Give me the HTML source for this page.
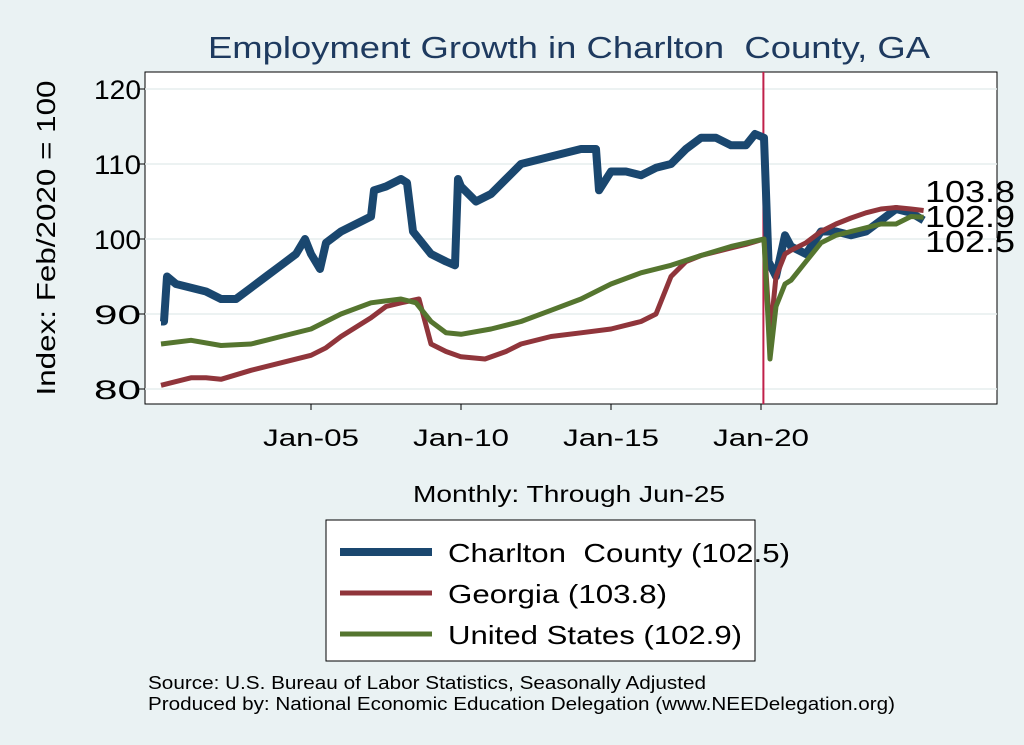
<!DOCTYPE html>
<html><head><meta charset="utf-8"><style>
body{margin:0;background:#eaf2f3;}
svg{display:block;font-family:"Liberation Sans",sans-serif;}
</style></head><body>
<svg width="1024" height="745">
<rect x="0" y="0" width="1024" height="745" fill="#eaf2f3"/>
<rect x="145" y="72" width="852" height="332" fill="#ffffff" stroke="#000" stroke-width="1"/>
<g id="grid"></g>
<g id="axes"></g>
<g id="series"></g>
<text x="208" y="58" font-size="31" fill="#1e3a5f" textLength="722" lengthAdjust="spacingAndGlyphs">Employment Growth in Charlton&#160; County, GA</text>
<text transform="translate(55,238) rotate(-90)" text-anchor="middle" font-size="26" textLength="315" lengthAdjust="spacingAndGlyphs">Index: Feb/2020 = 100</text>
<text x="413" y="502" font-size="23" textLength="312" lengthAdjust="spacingAndGlyphs">Monthly: Through Jun-25</text>
<g>
<rect x="326" y="520" width="429" height="141" fill="#fff" stroke="#000" stroke-width="1"/>
<line x1="340" y1="552" x2="432" y2="552" stroke="#1a476f" stroke-width="8"/>
<text x="448" y="562" font-size="26" textLength="342" lengthAdjust="spacingAndGlyphs">Charlton&#160; County (102.5)</text>
<line x1="340" y1="593" x2="432" y2="593" stroke="#90353b" stroke-width="5"/>
<text x="448" y="603" font-size="26" textLength="219" lengthAdjust="spacingAndGlyphs">Georgia (103.8)</text>
<line x1="340" y1="634" x2="432" y2="634" stroke="#55752f" stroke-width="5"/>
<text x="448" y="644" font-size="26" textLength="294" lengthAdjust="spacingAndGlyphs">United States (102.9)</text>
</g>
<text x="148" y="689" font-size="18" textLength="558" lengthAdjust="spacingAndGlyphs">Source: U.S. Bureau of Labor Statistics, Seasonally Adjusted</text>
<text x="148" y="710" font-size="18" textLength="747" lengthAdjust="spacingAndGlyphs">Produced by: National Economic Education Delegation (www.NEEDelegation.org)</text>
</svg>
<script>
const yTicks=[80,90,100,110,120];
const xTickLabels=["Jan-05","Jan-10","Jan-15","Jan-20"];
const xTickYears=[2005,2010,2015,2020];
const charltonDates=[2000,2000.1,2000.2,2000.5,2001,2001.5,2002,2002.5,2003,2003.5,2004,2004.5,2004.8,2005,2005.3,2005.5,2006,2006.5,2007,2007.1,2007.5,2008,2008.2,2008.4,2008.6,2009,2009.5,2009.8,2009.9,2010,2010.5,2011,2011.5,2012,2012.5,2013,2013.5,2014,2014.5,2014.6,2015,2015.5,2016,2016.5,2017,2017.5,2018,2018.5,2019,2019.5,2019.8,2020.1,2020.25,2020.5,2020.8,2021,2021.5,2022,2022.5,2023,2023.5,2024,2024.5,2025,2025.42];
const charltonValues=[89,89,95,94,93.5,93,92,92,93.5,95,96.5,98,100,98,96,99.5,101,102,103,106.5,107,108,107.5,101,100,98,97,96.5,108,107,105,106,108,110,110.5,111,111.5,112,112,106.5,109,109,108.5,109.5,110,112,113.5,113.5,112.5,112.5,114,113.5,97,95,100.5,99,98,101,101,100.5,101,102.5,104,103.5,102.5];
const gaDates=[2000,2001,2001.5,2002,2003,2004,2005,2005.5,2006,2007,2007.5,2008,2008.6,2009,2009.5,2010,2010.8,2011.5,2012,2013,2014,2015,2016,2016.5,2017,2017.5,2018,2019,2019.5,2020.1,2020.3,2020.5,2020.8,2021,2021.5,2022,2022.5,2023,2023.5,2024,2024.5,2025,2025.42];
const gaValues=[80.5,81.5,81.5,81.3,82.5,83.5,84.5,85.5,87,89.5,91,91.5,92,86,85,84.3,84,85,86,87,87.5,88,89,90,95,97,97.8,98.8,99.3,100,87,95,98,98.5,99.5,101,102,102.8,103.5,104,104.2,104,103.8];
const usDates=[2000,2001,2002,2003,2003.5,2004,2005,2006,2007,2008,2008.5,2009,2009.5,2010,2011,2012,2013,2014,2015,2016,2017,2018,2019,2020.1,2020.3,2020.5,2020.8,2021,2021.5,2022,2022.5,2023,2024,2024.5,2025,2025.42];
const usValues=[86,86.5,85.8,86,86.5,87,88,90,91.5,92,91.5,89,87.5,87.3,88,89,90.5,92,94,95.5,96.5,97.8,99,100,84,91,94,94.5,97,99.5,100.5,101,102,102,103,102.9];
const endLabels=["103.8","102.9","102.5"];
const endLabelValues=[103.8,102.9,102.5];

const NS="http://www.w3.org/2000/svg";
const xS=t=>161+(t-2000)*30;
const yS=v=>389-(v-80)*7.5;
function mk(tag,attrs,parent){const e=document.createElementNS(NS,tag);for(const k in attrs)e.setAttribute(k,attrs[k]);parent.appendChild(e);return e;}
const grid=document.getElementById('grid'),axes=document.getElementById('axes'),series=document.getElementById('series');
yTicks.forEach(v=>{
  const g=mk('line',{x1:145,x2:997,y1:yS(v),y2:yS(v),stroke:'#e6eded','stroke-width':1.5},grid);
  
  
  const t=mk('line',{x1:139,x2:145,y1:yS(v),y2:yS(v),stroke:'#000'},axes);
  
  
  const l=mk('text',{x:141,y:yS(v)+10,'text-anchor':'end','font-size':27,textLength:47,lengthAdjust:'spacingAndGlyphs'},axes);
  l.textContent=v;
  
  
});
xTickYears.forEach((yr,i)=>{
  const t=mk('line',{x1:xS(yr),x2:xS(yr),y1:404,y2:410,stroke:'#000'},axes);
  
  
  const l=mk('text',{x:xS(yr)-48,y:446,'font-size':24,textLength:96,lengthAdjust:'spacingAndGlyphs'},axes);
  l.textContent=xTickLabels[i];
  
  
});
const vl=mk('line',{x1:xS(2020.08),x2:xS(2020.08),y1:72,y2:404,stroke:'#c0204a','stroke-width':2},series);


function path(d,v,color,w,name){
  const p=mk('path',{d:d.map((t,i)=>(i?'L':'M')+xS(t).toFixed(1)+','+yS(v[i]).toFixed(1)).join(''),fill:'none',stroke:color,'stroke-width':w,'stroke-linejoin':'round'},series);
  
  
}
path(charltonDates,charltonValues,'#1a476f',8,'charlton-line');
path(gaDates,gaValues,'#90353b',5,'georgia-line');
path(usDates,usValues,'#55752f',5,'us-line');
const labY=[191,216,241];
endLabels.forEach((s,i)=>{
  const l=mk('text',{x:925,y:labY[i]+11,'font-size':31,textLength:90,lengthAdjust:'spacingAndGlyphs'},series);
  l.textContent=s;
  
  
});
</script>
</body></html>
